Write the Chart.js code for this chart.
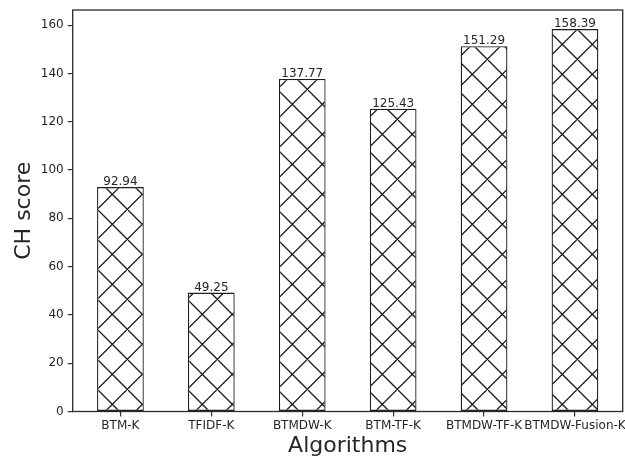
<!DOCTYPE html>
<html>
<head>
<meta charset="utf-8">
<script src="https://cdn.jsdelivr.net/npm/chart.js@4/dist/chart.umd.min.js"></script>
<style>
  html, body { margin: 0; padding: 0; background: #ffffff; }
  canvas { display: block; }
</style>
</head>
<body>
<canvas id="chart" width="625" height="461"></canvas>
<script>
// Clustering quality per algorithm
const categories = ['BTM-K', 'TFIDF-K', 'BTMDW-K', 'BTM-TF-K', 'BTMDW-TF-K', 'BTMDW-Fusion-K'];
const chScores = [92.94, 49.25, 137.77, 125.43, 151.29, 158.39];
const yTicks = [0, 20, 40, 60, 80, 100, 120, 140, 160];
const yMax = 166.3;

const INK = '#262626';
const FONT = 'DejaVu Sans';

// Cross-hatch fill, tiled from the canvas origin
function makeHatch() {
  const P = 30, a = 6.6, b = 8;
  const tile = document.createElement('canvas');
  tile.width = P; tile.height = P;
  const g = tile.getContext('2d');
  g.fillStyle = '#ffffff';
  g.fillRect(0, 0, P, P);
  g.strokeStyle = '#1a1a1a';
  g.lineWidth = 1.3;
  g.beginPath();
  for (let k = -2; k <= 2; k++) {
    // lines with x - y = b + kP
    g.moveTo(b + k * P, 0); g.lineTo(b + k * P + P, P);
    // lines with x + y = a + kP
    g.moveTo(a + k * P, 0); g.lineTo(a + k * P - P, P);
  }
  g.stroke();
  return document.getElementById('chart').getContext('2d').createPattern(tile, 'repeat');
}

const valueLabels = {
  id: 'valueLabels',
  afterDatasetsDraw(chart) {
    const ctx = chart.ctx;
    const meta = chart.getDatasetMeta(0);
    ctx.save();
    ctx.font = '12px "' + FONT + '"';
    ctx.fillStyle = INK;
    ctx.textAlign = 'center';
    ctx.textBaseline = 'alphabetic';
    meta.data.forEach((bar, i) => {
      ctx.fillText(chScores[i].toFixed(2), bar.x, bar.y - 2);
    });
    ctx.restore();
  }
};

const frame = {
  id: 'frame',
  afterDraw(chart) {
    const {left, top, right, bottom} = chart.chartArea;
    const ctx = chart.ctx;
    ctx.save();
    ctx.strokeStyle = '#2a2a2a';
    ctx.lineWidth = 1.3;
    ctx.strokeRect(left, top, right - left, bottom - top);
    ctx.restore();
  }
};

new Chart(document.getElementById('chart'), {
  type: 'bar',
  data: {
    datasets: [{
      data: chScores.map((v, i) => ({x: i, y: v})),
      backgroundColor: makeHatch(),
      borderColor: '#1e1e1e',
      borderWidth: 1.3,
      borderSkipped: false,
      categoryPercentage: 1,
      barPercentage: 0.514
    }]
  },
  options: {
    responsive: false,
    devicePixelRatio: 1,
    animation: false,
    layout: { padding: { top: 10, right: 2.3, left: 0, bottom: 0 } },
    plugins: {
      legend: { display: false },
      tooltip: { enabled: false }
    },
    scales: {
      x: {
        type: 'linear',
        offset: false,
        min: -0.525,
        max: 5.525,
        afterBuildTicks(scale) {
          scale.ticks = categories.map((_, i) => ({value: i}));
        },
        afterFit(scale) {
          scale.height = 49.5;
          scale.paddingLeft = 0;
          scale.paddingRight = 0;
        },
        ticks: {
          autoSkip: false,
          maxRotation: 0,
          minRotation: 0,
          padding: 2,
          color: INK,
          font: { family: FONT, size: 12 },
          callback: (v) => categories[v]
        },
        grid: {
          display: true,
          offset: false,
          drawOnChartArea: false,
          drawTicks: true,
          tickLength: 5,
          color: '#333333',
          lineWidth: 1.2
        },
        border: { display: false },
        title: {
          display: true,
          text: 'Algorithms',
          color: INK,
          font: { family: FONT, size: 22 },
          padding: { top: 0, bottom: 2 }
        }
      },
      y: {
        type: 'linear',
        min: 0,
        max: yMax,
        afterBuildTicks(scale) {
          scale.ticks = yTicks.map(v => ({value: v}));
        },
        afterFit(scale) {
          scale.width = 72.7;
          scale.paddingTop = 0;
          scale.paddingBottom = 0;
        },
        ticks: {
          padding: 4,
          color: INK,
          font: { family: FONT, size: 12 }
        },
        grid: {
          display: true,
          drawOnChartArea: false,
          drawTicks: true,
          tickLength: 5,
          color: '#333333',
          lineWidth: 1.2
        },
        border: { display: false },
        title: {
          display: true,
          text: 'CH score',
          color: INK,
          font: { family: FONT, size: 22 },
          padding: { top: 10.8, bottom: 0 }
        }
      }
    }
  },
  plugins: [valueLabels, frame]
});
</script>
</body>
</html>
